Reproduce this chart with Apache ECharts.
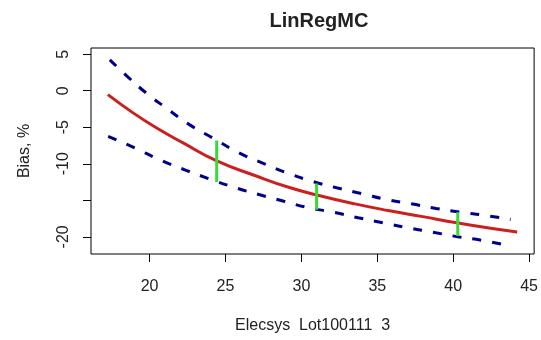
<!DOCTYPE html>
<html>
<head>
<meta charset="utf-8">
<script src="https://cdn.jsdelivr.net/npm/echarts@6/dist/echarts.min.js"></script>
<style>
  html, body { margin: 0; padding: 0; background: #fff; }
  #chart { width: 541px; height: 340px; }
</style>
</head>
<body>
<div id="chart"></div>
<script>
// fitted curve (red)
const fitX = [17.25, 18.91, 20.44, 22.18, 24.43, 26.98, 29.16, 31.01, 33.53, 35.71, 37.89, 40.33, 42.25, 44.21]
const fitY = [-0.54, -3.03, -5.07, -7.11, -9.61, -11.64, -13.22, -14.27, -15.49, -16.40, -17.20, -18.10, -18.75, -19.33]

// upper band (blue dashed)
const upX = [17.38, 18.58, 19.78, 21.09, 22.62, 24.14, 25.89, 27.41, 29.05, 30.69, 32.32, 33.96, 35.60, 37.23, 38.87, 40.50, 42.14, 43.78]
const upY = [4.23, 1.87, -0.31, -2.36, -4.64, -6.45, -8.51, -9.88, -11.24, -12.39, -13.29, -14.07, -14.89, -15.48, -16.12, -16.63, -17.08, -17.62]

// lower band (blue dashed)
const loX = [17.27, 19.02, 20.65, 22.40, 23.93, 25.56, 27.20, 28.84, 30.47, 32.11, 33.74, 35.38, 37.02, 38.65, 40.29, 41.92, 43.56]
const loY = [-6.24, -7.83, -9.43, -10.89, -12.06, -13.21, -14.21, -15.12, -16.02, -16.62, -17.39, -18.07, -18.76, -19.36, -19.99, -20.49, -21.17]

// green intervals
const barX = [24.42, 31.0, 40.3]
const barTop = [-6.8, -12.7, -16.65]
const barBottom = [-12.5, -16.3, -19.9]

const xTicks = [20, 25, 30, 35, 40, 45]
const yTicks = [5, 0, -5, -10, -15, -20]

const zip = (xs, ys) => xs.map((x, i) => [x, ys[i]])

const FONT = "'Liberation Sans', Arial, sans-serif"
const chart = echarts.init(document.getElementById('chart'))

const greenSeries = barX.map((x, i) => ({
    type: 'line',
    data: [[x, barTop[i]], [x, barBottom[i]]],
    symbol: 'none',
    lineStyle: { color: '#33dd33', width: 3 },
    z: 5,
    silent: true
}))

const curve = (data, lineStyle, z) => ({
    type: 'line',
    data,
    smooth: 0.5,
    symbol: 'none',
    lineStyle,
    z
})

chart.setOption({
    animation: false,
    textStyle: { fontFamily: FONT },
    title: {
        text: 'LinRegMC',
        left: 314,
        textAlign: 'center',
        top: 6,
        textStyle: { fontSize: 20, fontWeight: 'bold', color: '#222', fontFamily: FONT }
    },
    grid: { left: 91, right: 4, top: 48, bottom: 86, show: true, borderColor: '#000', borderWidth: 1 },
    xAxis: {
        type: 'value',
        min: 16.14,
        max: 45.33,
        name: 'Elecsys  Lot100111  3',
        nameLocation: 'middle',
        nameGap: 64,
        nameTextStyle: { fontSize: 16, color: '#222', fontFamily: FONT },
        axisLine: { show: false, onZero: false },
        splitLine: { show: false },
        axisTick: { show: true, inside: false, length: 8, customValues: xTicks, lineStyle: { color: '#000' } },
        axisLabel: { customValues: xTicks, margin: 25, fontSize: 16, color: '#222', fontFamily: FONT }
    },
    yAxis: {
        type: 'value',
        min: -22.35,
        max: 5.85,
        name: 'Bias, %',
        nameLocation: 'middle',
        nameGap: 58,
        nameTextStyle: { fontSize: 16, color: '#222', fontFamily: FONT },
        axisLine: { show: false, onZero: false },
        splitLine: { show: false },
        axisTick: { show: true, inside: false, length: 8, customValues: yTicks, lineStyle: { color: '#000' } },
        axisLabel: {
            customValues: yTicks,
            rotate: 90,
            margin: 19,
            fontSize: 16,
            color: '#222',
            fontFamily: FONT,
            formatter: v => (v === -15 ? '' : String(v))
        }
    },
    series: [
        curve(zip(upX, upY), { color: '#00008b', width: 3, type: [9, 11] }, 3),
        curve(zip(loX, loY), { color: '#00008b', width: 3, type: [9, 11] }, 3),
        curve(zip(fitX, fitY), { color: '#cc2020', width: 3 }, 4),
        ...greenSeries
    ]
})
</script>
</body>
</html>
